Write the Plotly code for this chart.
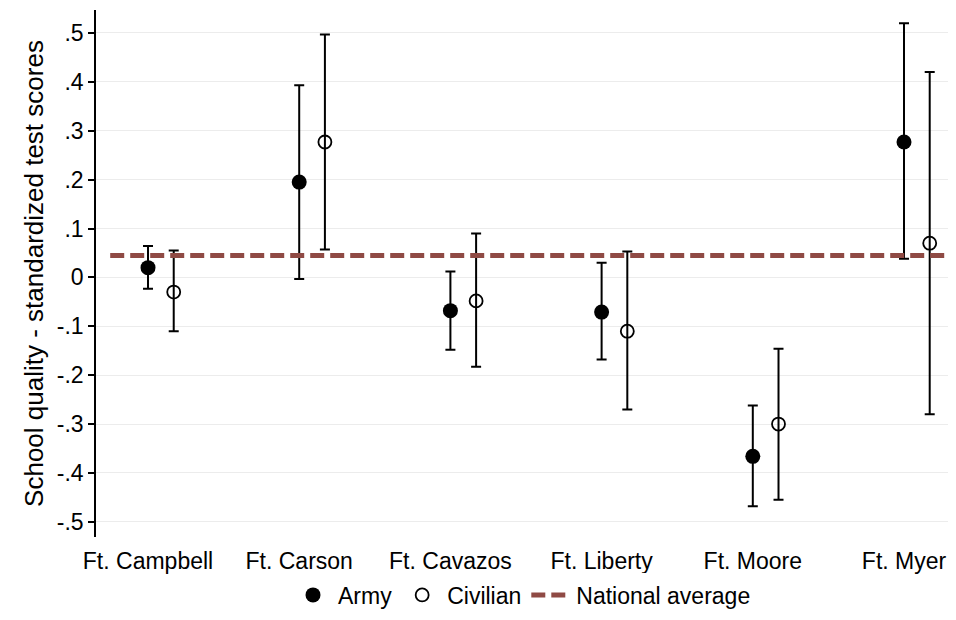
import plotly.graph_objects as go

categories = ["Ft. Campbell", "Ft. Carson", "Ft. Cavazos", "Ft. Liberty", "Ft. Moore", "Ft. Myer"]
army_est = [0.020, 0.195, -0.068, -0.071, -0.366, 0.277]
army_lo = [-0.023, -0.003, -0.148, -0.168, -0.468, 0.038]
army_hi = [0.064, 0.393, 0.012, 0.030, -0.262, 0.520]
civ_est = [-0.030, 0.277, -0.048, -0.110, -0.300, 0.070]
civ_lo = [-0.110, 0.057, -0.183, -0.270, -0.455, -0.280]
civ_hi = [0.055, 0.497, 0.090, 0.053, -0.146, 0.420]
national_avg = 0.045
ytick_vals = [-0.5, -0.4, -0.3, -0.2, -0.1, 0, 0.1, 0.2, 0.3, 0.4, 0.5]
ytick_text = ["-.5", "-.4", "-.3", "-.2", "-.1", "0", ".1", ".2", ".3", ".4", ".5"]

offset = 0.17
xa = list(range(len(categories)))
xc = [i + offset for i in xa]

fig = go.Figure()
fig.add_trace(go.Scatter(
    x=xa, y=army_est, mode="markers", name="Army",
    marker=dict(symbol="circle", size=15, color="black", line=dict(width=0)),
    error_y=dict(type="data", symmetric=False,
                 array=[h - e for h, e in zip(army_hi, army_est)],
                 arrayminus=[e - l for e, l in zip(army_est, army_lo)],
                 color="black", thickness=2, width=5),
))
fig.add_trace(go.Scatter(
    x=xc, y=civ_est, mode="markers", name="Civilian",
    marker=dict(symbol="circle-open", size=13, color="black", line=dict(width=1.8)),
    error_y=dict(type="data", symmetric=False,
                 array=[h - e for h, e in zip(civ_hi, civ_est)],
                 arrayminus=[e - l for e, l in zip(civ_est, civ_lo)],
                 color="black", thickness=2, width=5),
))
fig.add_trace(go.Scatter(
    x=[-0.25, 5.29], y=[national_avg, national_avg], mode="lines",
    name="National average",
    line=dict(color="#8f4a44", width=5, dash="14px,6px"),
))

# page body has an 8px margin, so the figure is placed at (8, 8);
# keep the whole page inside the 956x620 window
fig.update_layout(
    width=940, height=604,
    margin=dict(l=88, r=0, t=2, b=75, autoexpand=False),
    plot_bgcolor="white", paper_bgcolor="white",
    font=dict(family="Liberation Sans, Arial, sans-serif", size=23, color="black"),
    showlegend=True,
    legend=dict(orientation="h", x=0.5, xanchor="center", y=-0.11, yanchor="middle",
                font=dict(size=23), itemwidth=40, traceorder="normal"),
    xaxis=dict(range=[-0.344, 5.291], tickmode="array", tickvals=xa, ticktext=categories,
               showgrid=False, zeroline=False, showline=False, ticks="", ticklen=0,
               ticklabelstandoff=8, automargin=False, ticklabeloverflow="allow",
               tickfont=dict(size=23)),
    yaxis=dict(range=[-0.531, 0.547], tickmode="array", tickvals=ytick_vals, ticktext=ytick_text,
               showgrid=True, gridcolor="#ececec", gridwidth=1, zeroline=False,
               showline=True, linecolor="black", linewidth=1.5, ticks="outside", ticklen=6,
               tickcolor="black", tickwidth=1.5, automargin=False,
               title=dict(text="School quality - standardized test scores", font=dict(size=26), standoff=6),
               tickfont=dict(size=23)),
)

fig.write_html("out.html")
